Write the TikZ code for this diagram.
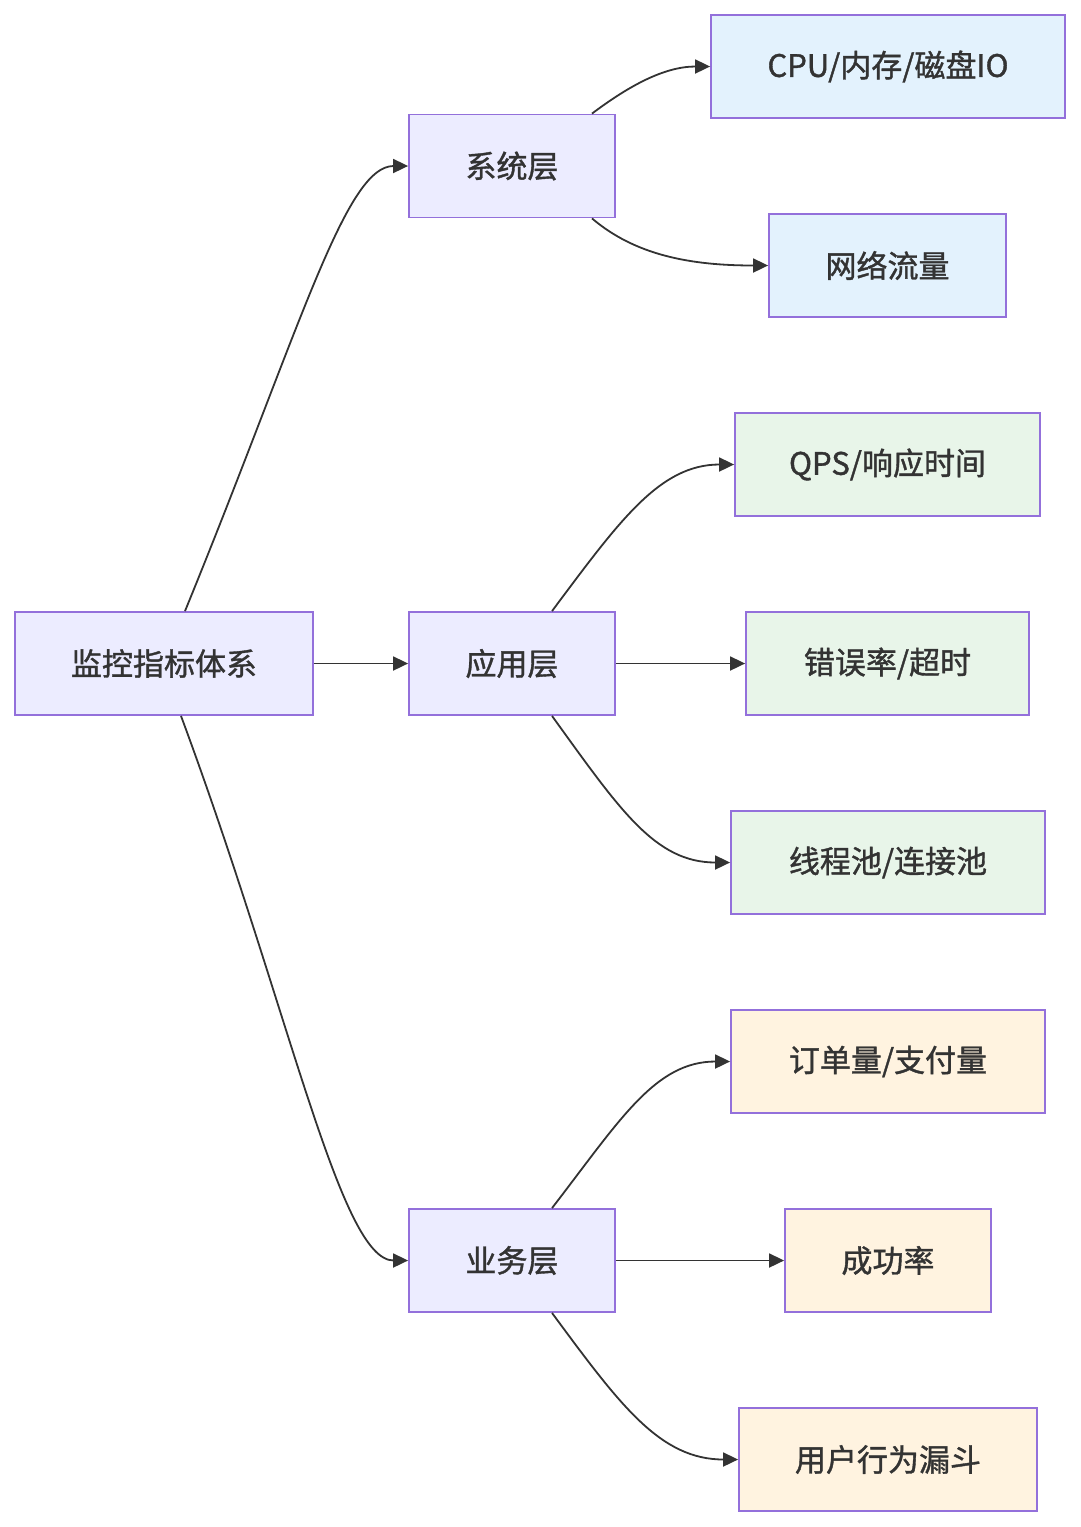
\documentclass[tikz,border=0pt]{standalone}
\usepackage{fontspec}
\setmainfont{Noto Sans CJK SC}
\newfontfamily\lblfont[RawFeature={embolden=1.2}]{Noto Sans CJK SC}
\usetikzlibrary{arrows.meta}
\definecolor{txt}{HTML}{333333}
\definecolor{bord}{HTML}{9370DB}
\definecolor{lav}{HTML}{ECECFF}
\definecolor{sysf}{HTML}{E3F2FD}
\definecolor{appf}{HTML}{E8F5E9}
\definecolor{bizf}{HTML}{FFF3E0}
\tikzset{
  box/.style={draw=bord, line width=1.8pt, text=txt, font=\lblfont\fontsize{31}{35}\selectfont, inner sep=0pt, anchor=center},
  lvl/.style={box, fill=lav},
  sysbox/.style={box, fill=sysf},
  appbox/.style={box, fill=appf},
  bizbox/.style={box, fill=bizf},
  conn/.style={draw=txt, line width=1.8pt, -{Triangle[length=15pt,width=14pt]}},
}
\begin{document}
\begin{tikzpicture}[x=1pt,y=-1pt]
\useasboundingbox (0,0) rectangle (1080,1527);
\node[lvl, minimum width=298pt, minimum height=103pt] (root) at (164,663.5) {监控指标体系};
\node[lvl, minimum width=206pt, minimum height=103pt] (sys) at (512,166) {系统层};
\node[lvl, minimum width=206pt, minimum height=103pt] (app) at (512,663.5) {应用层};
\node[lvl, minimum width=206pt, minimum height=103pt] (biz) at (512,1260.5) {业务层};
\node[sysbox, minimum width=354pt, minimum height=103pt] (cpu) at (888,66.5) {CPU/内存/磁盘IO};
\node[sysbox, minimum width=237pt, minimum height=103pt] (net) at (887.5,265.5) {网络流量};
\node[appbox, minimum width=305pt, minimum height=103pt] (qps) at (887.5,464.5) {QPS/响应时间};
\node[appbox, minimum width=283pt, minimum height=103pt] (err) at (887.5,663.5) {错误率/超时};
\node[appbox, minimum width=314pt, minimum height=103pt] (pool) at (888,862.5) {线程池/连接池};
\node[bizbox, minimum width=314pt, minimum height=103pt] (order) at (888,1061.5) {订单量/支付量};
\node[bizbox, minimum width=206pt, minimum height=103pt] (succ) at (888,1260.5) {成功率};
\node[bizbox, minimum width=298pt, minimum height=103pt] (funnel) at (888,1459.5) {用户行为漏斗};

\draw[conn] ([xshift=21pt]root.north) .. controls (300,330) and (345,166) .. (sys.west);
\draw[conn] (root.east) -- (app.west);
\draw[conn] ([xshift=17pt]root.south) .. controls (290,1010) and (340,1260.5) .. (biz.west);

\draw[conn] ([xshift=80pt]sys.north) .. controls (630,85) and (665,66.5) .. (cpu.west);
\draw[conn] ([xshift=80pt]sys.south) .. controls (635,255) and (690,265.5) .. (net.west);

\draw[conn] ([xshift=40pt]app.north) .. controls (620,520) and (660,464.5) .. (qps.west);
\draw[conn] (app.east) -- (err.west);
\draw[conn] ([xshift=40pt]app.south) .. controls (620,810) and (655,862.5) .. (pool.west);

\draw[conn] ([xshift=40pt]biz.north) .. controls (620,1120) and (655,1061.5) .. (order.west);
\draw[conn] (biz.east) -- (succ.west);
\draw[conn] ([xshift=40pt]biz.south) .. controls (620,1405) and (660,1459.5) .. (funnel.west);
\end{tikzpicture}
\end{document}
